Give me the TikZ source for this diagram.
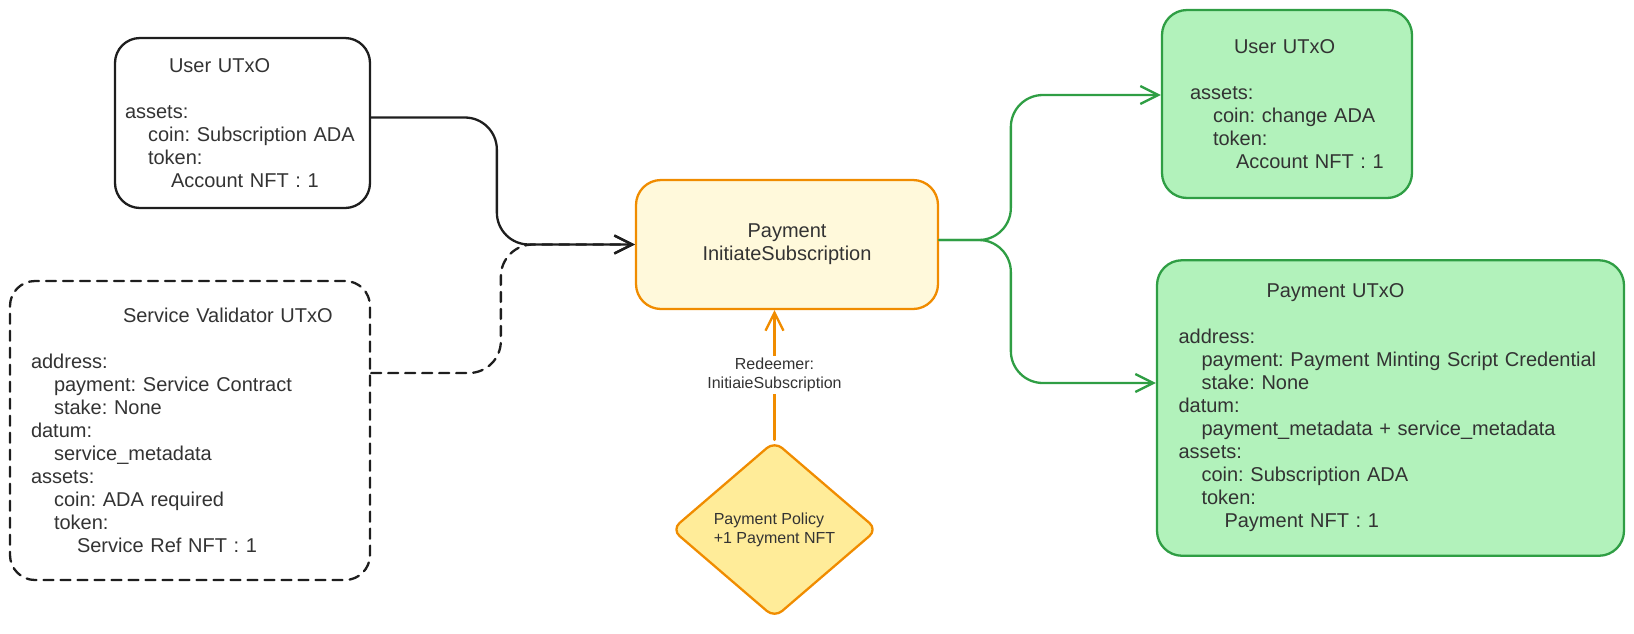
\documentclass[tikz,border=0pt]{standalone}
\usepackage{fontspec}
\setmainfont{Liberation Sans}
\usetikzlibrary{arrows.meta,shapes.geometric}
\definecolor{ink}{HTML}{333333}
\definecolor{edge}{HTML}{1E1E1E}
\definecolor{grn}{HTML}{2F9E44}
\definecolor{grnfill}{HTML}{B2F2BB}
\definecolor{org}{HTML}{F08C00}
\definecolor{creamfill}{HTML}{FFF9DB}
\definecolor{yelfill}{HTML}{FFEC99}
\newcommand\utab{\hspace*{23pt}}
\frenchspacing
\begin{document}
\begin{tikzpicture}[x=1pt,y=-1pt,line join=round,line cap=round,
    >={Straight Barb[length=18pt,width=18pt]},
    font=\fontsize{20}{23}\selectfont,text=ink,
    utxo/.style={draw=edge,line width=2.3pt,rounded corners=25pt,align=left,inner ysep=0pt},
    outbox/.style={utxo,draw=grn,fill=grnfill},
    flow/.style={line width=2.3pt,rounded corners=32pt,->},
    small/.style={font=\fontsize{16}{19}\selectfont}]
    \useasboundingbox (0,0) rectangle (1634,633);
    \node[utxo,minimum width=255pt,minimum height=170pt,text width=235pt,inner xsep=10pt] (usr) at (242.5,123)
        {\hspace*{44pt}User UTxO\\[23pt]assets:\\\utab coin: Subscription ADA\\\utab token:\\\utab\utab Account NFT : 1};
    \node[utxo,dash pattern=on 10pt off 7pt,minimum width=360pt,minimum height=299pt,text width=318pt,inner xsep=21pt] (svc) at (190,430.5)
        {\hspace*{92pt}Service Validator UTxO\\[23pt]address:\\\utab payment: Service Contract\\\utab stake: None\\datum:\\\utab service\_metadata\\assets:\\\utab coin: ADA required\\\utab token:\\\utab\utab Service Ref NFT : 1};
    \node[utxo,draw=org,fill=creamfill,align=center,minimum width=302pt,minimum height=129pt] (pay) at (787,244.5)
        {Payment\\InitiateSubscription};
    \node[diamond,small,draw=org,line width=2.3pt,fill=yelfill,rounded corners=10pt,align=left,minimum width=206pt,minimum height=177pt] (pol) at (774.5,529.5)
        {Payment Policy\\+1 Payment NFT};
    \node[outbox,minimum width=250pt,minimum height=188pt,text width=194pt,inner xsep=28pt] (out1) at (1287,104)
        {\hspace*{44pt}User UTxO\\[23pt]assets:\\\utab coin: change ADA\\\utab token:\\\utab\utab Account NFT : 1};
    \node[outbox,minimum width=467pt,minimum height=295.5pt,text width=424pt,inner xsep=21.5pt] (out2) at (1390.5,408)
        {\hspace*{88pt}Payment UTxO\\[23pt]address:\\\utab payment: Payment Minting Script Credential\\\utab stake: None\\datum:\\\utab payment\_metadata + service\_metadata\\assets:\\\utab coin: Subscription ADA\\\utab token:\\\utab\utab Payment NFT : 1};
    \draw[flow,edge] ([yshift=5.5pt]usr.east) -| ([xshift=-138pt]pay.west) -- (pay.west);
    \draw[flow,edge,dash pattern=on 10pt off 7pt] ([yshift=57.5pt]svc.east) -| ([xshift=-134pt]pay.west) -- (pay.west);
    \draw[flow,org] (pol.north) -- (pol.north |- pay.south)
        node[midway,small,text=ink,fill=white,align=center,inner sep=2pt] (rdm) {Redeemer:\\InitiaieSubscription};
    \draw[flow,grn] ([yshift=4.5pt]pay.east) -| ([xshift=-150pt,yshift=9pt]out1.west) -- ([yshift=9pt]out1.west);
    \draw[flow,grn] ([yshift=4.5pt]pay.east) -| ([xshift=-145pt,yshift=25pt]out2.west) -- ([yshift=25pt]out2.west);
\end{tikzpicture}
\end{document}
